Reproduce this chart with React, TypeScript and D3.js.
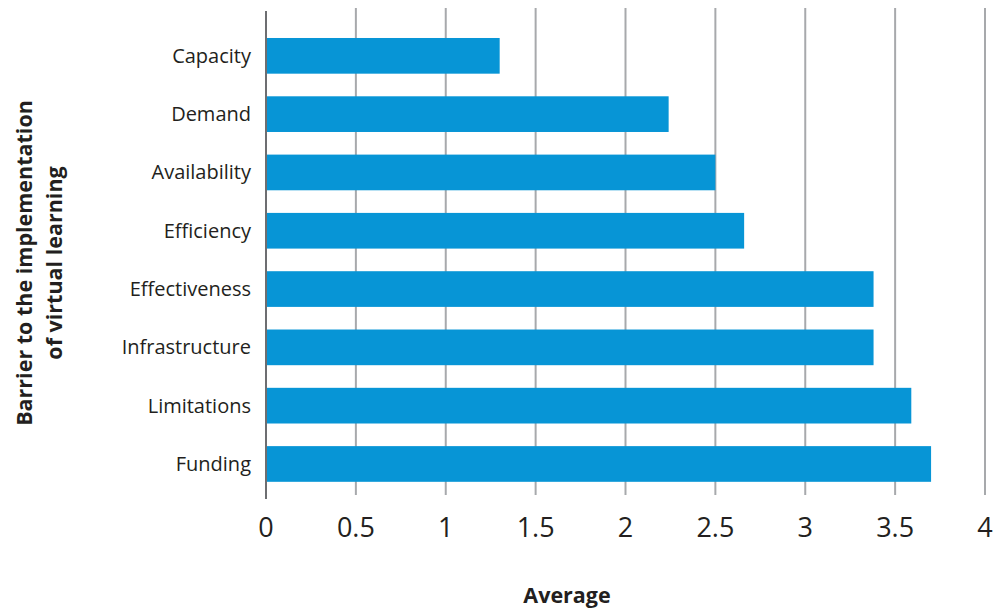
import React from "react";
import * as d3 from "d3";

const categories = ["Capacity", "Demand", "Availability", "Efficiency", "Effectiveness", "Infrastructure", "Limitations", "Funding"];
const values = [1.3, 2.24, 2.5, 2.66, 3.38, 3.38, 3.59, 3.7];
const ticks = [0, 0.5, 1, 1.5, 2, 2.5, 3, 3.5, 4];
const yTitleLines = ["Barrier to the implementation", "of virtual learning"];
const xTitle = "Average";

const W = 999;
const H = 609;
const FONT = "'Open Sans', sans-serif";
const TEXT = "#231f20";

export default function App() {
  const x = d3.scaleLinear().domain([0, 4]).range([266, 985]);
  const y = d3.scaleBand<string>().domain(categories).range([20.5, 499.3]).paddingInner(0.388).paddingOuter(0.3);
  const bw = y.bandwidth();
  return (
    <svg width={W} height={H} style={{ position: "absolute", left: 0, top: 0 }}>
      <rect width={W} height={H} fill="#fff" />
      {ticks.slice(1).map((t) => (
        <line key={t} x1={x(t)} x2={x(t)} y1={8} y2={495} stroke="#a7a9ac" strokeWidth={2} />
      ))}
      {categories.map((c, i) => (
        <rect key={c} x={x(0)} y={y(c)} width={x(values[i]) - x(0)} height={bw} fill="#0795d6" />
      ))}
      <line x1={x(0)} x2={x(0)} y1={11} y2={499} stroke="#6d6e71" strokeWidth={2} />
      {ticks.map((t) => (
        <text key={t} x={x(t)} y={537} textAnchor="middle" fontFamily={FONT} fontSize={27} fill={TEXT}>
          {String(t)}
        </text>
      ))}
      {categories.map((c) => (
        <text key={c} x={251} y={(y(c) as number) + bw / 2} dy="0.35em" textAnchor="end" fontFamily={FONT} fontSize={20} fill={TEXT}>
          {c}
        </text>
      ))}
      <text transform="translate(0,263) rotate(-90)" textAnchor="middle" fontFamily={FONT} fontSize={21.5} fontWeight="bold" fill={TEXT}>
        <tspan x={0} y={32}>{yTitleLines[0]}</tspan>
        <tspan x={0} y={62}>{yTitleLines[1]}</tspan>
      </text>
      <text x={567} y={603} textAnchor="middle" fontFamily={FONT} fontSize={21.5} fontWeight="bold" fill={TEXT}>
        {xTitle}
      </text>
    </svg>
  );
}
